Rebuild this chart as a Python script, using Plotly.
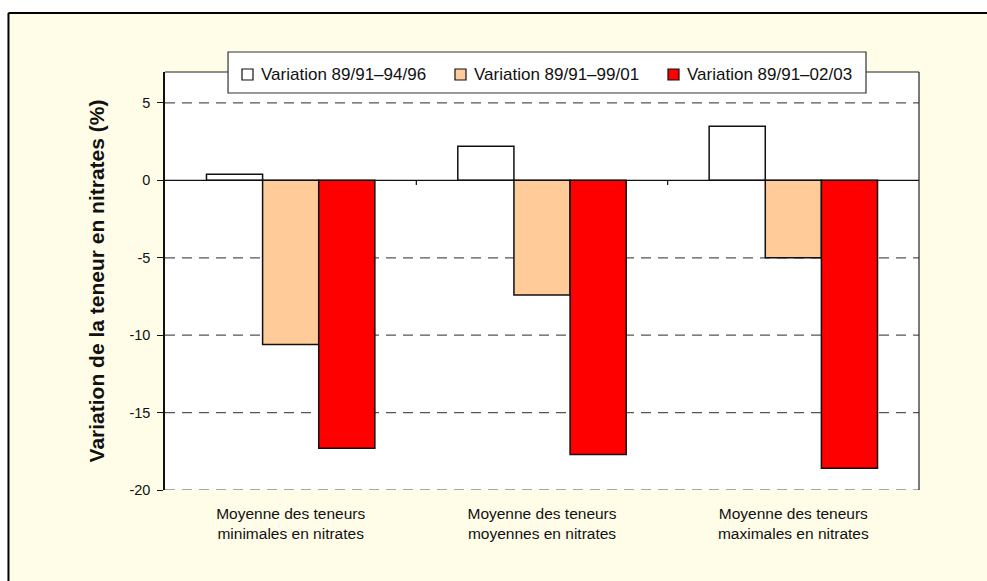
import plotly.graph_objects as go

categories = [
    "Moyenne des teneurs<br>minimales en nitrates",
    "Moyenne des teneurs<br>moyennes en nitrates",
    "Moyenne des teneurs<br>maximales en nitrates",
]
series_names = [
    "Variation 89/91–94/96",
    "Variation 89/91–99/01",
    "Variation 89/91–02/03",
]
var_94_96 = [0.4, 2.2, 3.5]
var_99_01 = [-10.6, -7.4, -5.0]
var_02_03 = [-17.3, -17.7, -18.6]
y_ticks = [5, 0, -5, -10, -15, -20]

colors = ["#FFFFFF", "#FFCC99", "#FF0000"]
bg = "#FFFDE8"

fig = go.Figure()
for name, vals, col in zip(series_names, [var_94_96, var_99_01, var_02_03], colors):
    fig.add_trace(go.Bar(
        x=categories,
        y=vals,
        name=name,
        marker=dict(color=col, line=dict(color="#111111", width=1.5)),
        showlegend=False,
    ))

# white page strips left and above the cream chart area, then its border
fig.add_shape(type="rect", xref="paper", yref="paper", x0=-0.3, x1=-0.2076, y0=-0.4, y1=1.3,
              fillcolor="#FFFFFF", line=dict(width=0), layer="above")
fig.add_shape(type="rect", xref="paper", yref="paper", x0=-0.3, x1=1.3, y0=1.1411, y1=1.3,
              fillcolor="#FFFFFF", line=dict(width=0), layer="above")
fig.add_shape(type="line", xref="paper", yref="paper", x0=-0.2076, x1=-0.2076, y0=-0.4, y1=1.1411,
              line=dict(color="#000000", width=2), layer="above")
fig.add_shape(type="line", xref="paper", yref="paper", x0=-0.2076, x1=1.3, y0=1.1411, y1=1.1411,
              line=dict(color="#000000", width=2), layer="above")

# dashed gridlines (all but zero)
for v in y_ticks:
    if v == 0:
        continue
    fig.add_shape(type="line", xref="paper", x0=0, x1=1, yref="y", y0=v, y1=v,
                  line=dict(color="#555555", width=1.2, dash="10px,7px"), layer="below")

# zero line with category ticks
fig.add_shape(type="line", xref="paper", x0=0, x1=1, yref="y", y0=0, y1=0,
              line=dict(color="#111111", width=1.2), layer="above")
for xb in [1 / 3, 2 / 3]:
    fig.add_shape(type="line", xref="paper", x0=xb, x1=xb, yref="y", y0=0, y1=-0.3,
                  line=dict(color="#111111", width=1.2), layer="above")

# plot frame top & right
fig.add_shape(type="line", xref="paper", yref="paper", x0=0, x1=1, y0=1, y1=1,
              line=dict(color="#222222", width=1.2), layer="above")
fig.add_shape(type="line", xref="paper", yref="paper", x0=1, x1=1, y0=0, y1=1,
              line=dict(color="#222222", width=1.2), layer="above")

# legend box
fig.add_shape(type="rect", xref="paper", yref="paper", x0=0.0836, x1=0.9297, y0=0.9498, y1=1.0478,
              fillcolor="#FFFFFF", line=dict(color="#333333", width=1.2), layer="above")
legend_sq_x = [0.1021, 0.3846, 0.6671]
for name, col, sx in zip(series_names, colors, legend_sq_x):
    fig.add_shape(type="rect", xref="paper", yref="paper", x0=sx, x1=sx + 0.0146,
                  y0=0.9809, y1=1.0072, fillcolor=col,
                  line=dict(color="#111111", width=1.2), layer="above")
    fig.add_annotation(xref="paper", yref="paper", x=sx + 0.0226, y=0.9945,
                       xanchor="left", yanchor="middle", showarrow=False,
                       text=name, font=dict(size=17, color="#111111"))

fig.update_layout(
    width=987,
    height=581,
    margin=dict(l=165, r=68, t=72, b=91),
    paper_bgcolor=bg,
    plot_bgcolor="#FFFFFF",
    barmode="group",
    bargap=0.33,
    bargroupgap=0,
    font=dict(family="Liberation Sans, Arial, sans-serif", size=14, color="#111111"),
    showlegend=False,
    xaxis=dict(
        showgrid=False,
        showline=False,
        ticks="",
        ticklabelstandoff=12,
        tickfont=dict(size=15.5, color="#111111"),
    ),
    yaxis=dict(
        range=[-20, 7],
        tickvals=y_ticks,
        ticktext=[str(v) for v in y_ticks],
        showgrid=False,
        zeroline=False,
        showline=True,
        linecolor="#111111",
        linewidth=1.5,
        ticks="outside",
        ticklen=6,
        tickcolor="#111111",
        ticklabelstandoff=4,
        tickfont=dict(size=14.5, color="#111111"),
        title=dict(text="<b>Variation de la teneur en nitrates (%)</b>",
                   font=dict(size=21, color="#111111"), standoff=19),
    ),
)

# remove the default page margin so the 987x581 figure fills the window exactly
fig.write_html(
    "out.html",
    config={"displayModeBar": False},
    post_script="document.body.style.margin='0';document.documentElement.style.overflow='hidden';",
)
